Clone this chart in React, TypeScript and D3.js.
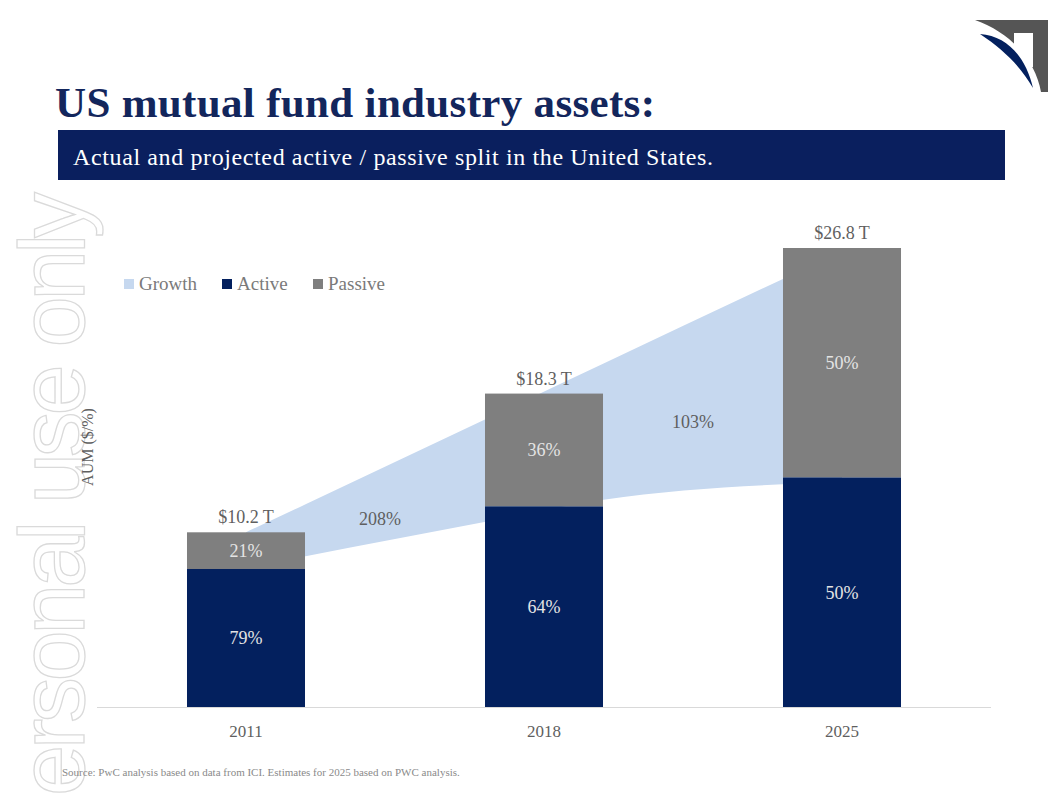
import React from "react";
import * as d3 from "d3";

const years = ["2011", "2018", "2025"];
const totals = [10.2, 18.3, 26.8];
const activeShare = [79, 64, 50];
const passiveShare = [21, 36, 50];
const totalLabels = ["$10.2 T", "$18.3 T", "$26.8 T"];

// growth band (position in category-index units, values in $T)
const growthIdx = [0, 0.2, 0.8, 1.2, 1.8, 2];
const growthUpper = [10.2, 11.84, 16.77, 20.05, 24.98, 26.6];
const growthLower = [8.1, 8.8, 10.8, 12.1, 13.0, 13.1];
const growthLabels = ["208%", "103%"];
const growthLabelIdx = [0.45, 1.5];
const growthLabelVal = [10.97, 16.64];

const legendItems = ["Growth", "Active", "Passive"];

const W = 1057;
const H = 798;
const SERIF = "'Liberation Serif', 'DejaVu Serif', serif";
const NAVY = "#03205e";
const GREY = "#7f7f7f";
const BLUE = "#c6d8ef";
const TEXT = "#5f5f5f";

export default function App() {
  const x = d3
    .scaleBand<string>()
    .domain(years)
    .range([97, 991])
    .paddingInner(0.604)
    .paddingOuter(0.302);
  const y = d3.scaleLinear().domain([0, 26.8]).range([707, 248]);
  const bw = x.bandwidth();
  const center = (i: number) => (x(years[i]) as number) + bw / 2;
  const xi = d3.scaleLinear().domain([0, 2]).range([center(0), center(2)]);

  const area = d3
    .area<number>()
    .x((_, i) => xi(growthIdx[i]))
    .y0((_, i) => y(growthLower[i]))
    .y1((_, i) => y(growthUpper[i]))
    .curve(d3.curveMonotoneX);

  const legendColors = [BLUE, NAVY, GREY];
  const legendX = [124, 222, 313];

  return (
    <svg
      width={W}
      height={H}
      style={{ position: "absolute", left: 0, top: 0, background: "#fff" }}
      fontFamily={SERIF}
    >
      {/* watermark */}
      <text
        transform={`translate(84,796) rotate(-90)`}
        fontFamily="'Liberation Sans', Arial, sans-serif"
        fontSize={92}
        fill="#fff"
        stroke="#dadada"
        strokeWidth={1.3}
        textLength={604}
        lengthAdjust="spacing"
      >
        ersonal use only
      </text>

      {/* logo */}
      <g>
        <path d="M975,20 H1048 V92 H1041 C1036,62 1012,33 975,20 Z" fill="#555" />
        <rect x={1014} y={33} width={19} height={34} fill="#fff" />
        <path
          d="M980,34 C1008,36 1026,58 1033,88 C1020,66 1004,50 980,34 Z"
          fill={NAVY}
        />
      </g>

      {/* title */}
      <text x={55} y={117} fontSize={43} fontWeight="bold" fill="#13265c" textLength={600}>
        US mutual fund industry assets:
      </text>
      <rect x={58} y={130} width={947} height={50} fill="#0a1f5e" />
      <text x={73} y={165} fontSize={24} fill="#fff" textLength={640}>
        Actual and projected active / passive split in the United States.
      </text>

      {/* legend */}
      {legendItems.map((name, i) => (
        <g key={name}>
          <rect x={legendX[i]} y={279} width={10} height={10} fill={legendColors[i]} />
          <text x={legendX[i] + 15} y={290} fontSize={19} fill="#7a7a7a">
            {name}
          </text>
        </g>
      ))}

      {/* y axis title */}
      <text
        transform={`translate(93,447) rotate(-90)`}
        textAnchor="middle"
        fontSize={16}
        fill={TEXT}
      >
        AUM ($/%)
      </text>

      {/* growth band */}
      <path d={area(growthIdx) || ""} fill={BLUE} />
      {growthLabels.map((t, i) => (
        <text
          key={t}
          x={xi(growthLabelIdx[i])}
          y={y(growthLabelVal[i])}
          dy="0.35em"
          textAnchor="middle"
          fontSize={18}
          fill={TEXT}
        >
          {t}
        </text>
      ))}

      {/* bars */}
      {years.map((yr, i) => {
        const act = (totals[i] * activeShare[i]) / 100;
        const x0 = x(yr) as number;
        return (
          <g key={yr}>
            <rect x={x0} y={y(totals[i])} width={bw} height={y(act) - y(totals[i])} fill={GREY} />
            <rect x={x0} y={y(act)} width={bw} height={y(0) - y(act)} fill={NAVY} />
            <text
              x={center(i)}
              y={(y(totals[i]) + y(act)) / 2}
              dy="0.35em"
              textAnchor="middle"
              fontSize={18}
              fill="#e4e4e4"
            >
              {passiveShare[i]}%
            </text>
            <text
              x={center(i)}
              y={(y(act) + y(0)) / 2}
              dy="0.35em"
              textAnchor="middle"
              fontSize={18}
              fill="#e4e4e4"
            >
              {activeShare[i]}%
            </text>
            <text
              x={center(i)}
              y={y(totals[i]) - 9}
              textAnchor="middle"
              fontSize={18}
              fill={TEXT}
            >
              {totalLabels[i]}
            </text>
            <text
              x={center(i)}
              y={737}
              textAnchor="middle"
              fontSize={17}
              fill={TEXT}
            >
              {yr}
            </text>
          </g>
        );
      })}

      {/* axis line */}
      <line x1={97} x2={991} y1={y(0) + 0.5} y2={y(0) + 0.5} stroke="#d9d9d9" strokeWidth={1} />

      {/* source */}
      <text x={62} y={776} fontSize={11} fill="#8a8a8a">
        Source: PwC analysis based on data from ICI. Estimates for 2025 based on PWC analysis.
      </text>
    </svg>
  );
}
